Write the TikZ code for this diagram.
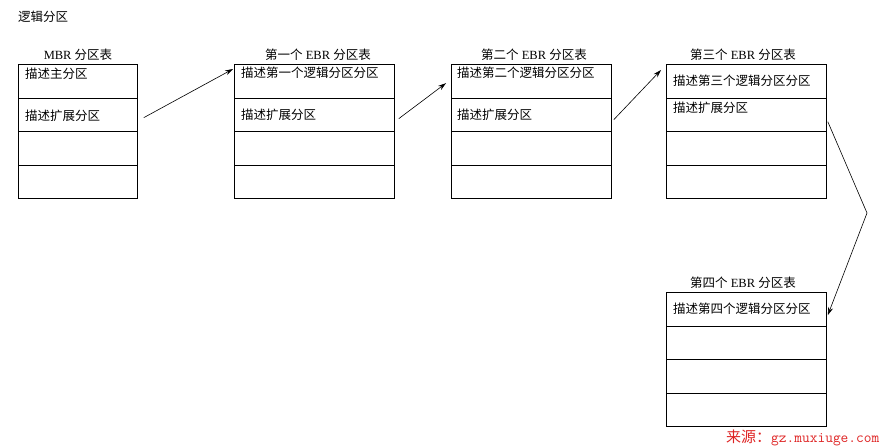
\documentclass[tikz,border=0pt]{standalone}
\usepackage{fontspec}
\setmainfont{Liberation Serif}
\newfontfamily\cjk{Noto Sans CJK SC}
\usetikzlibrary{arrows.meta}

\definecolor{wmred}{RGB}{222,36,36}

\tikzset{
  cell/.style={draw, line width=0.8pt, anchor=north west, inner sep=0pt,
    minimum height=33.5pt},
  txt/.style={anchor=west, inner sep=0pt, font=\cjk\fontsize{12.5}{14}\selectfont},
  tabtitle/.style={inner sep=0pt, font=\fontsize{12.5}{14}\selectfont},
  link/.style={line width=0.6pt, -{Stealth[length=8pt,width=5pt]}}
}

\begin{document}
\begin{tikzpicture}[x=1pt, y=-1pt]
  \useasboundingbox (0,0) rectangle (887,447);

  \node[txt] (head) at (18,17) {逻辑分区};

  % MBR table
  \node[tabtitle] (mbrtitle) at (78,55) {MBR {\cjk 分区表}};
  \foreach \i in {0,1,2,3}
    \node[cell, minimum width=119pt] (mbr\i) at (18,64+33.5*\i) {};
  \node[txt] (mbrt0) at (25,74) {描述主分区};
  \node[txt] (mbrt1) at (25,116) {描述扩展分区};

  % first EBR table
  \node[tabtitle] (ebratitle) at (318,55) {{\cjk 第一个} EBR {\cjk 分区表}};
  \foreach \i in {0,1,2,3}
    \node[cell, minimum width=160pt] (ebra\i) at (234,64+33.5*\i) {};
  \node[txt] (ebrat0) at (241,73) {描述第一个逻辑分区分区};
  \node[txt] (ebrat1) at (241,115) {描述扩展分区};

  % second EBR table
  \node[tabtitle] (ebrbtitle) at (534,55) {{\cjk 第二个} EBR {\cjk 分区表}};
  \foreach \i in {0,1,2,3}
    \node[cell, minimum width=160pt] (ebrb\i) at (451,64+33.5*\i) {};
  \node[txt] (ebrbt0) at (457,73) {描述第二个逻辑分区分区};
  \node[txt] (ebrbt1) at (457,115) {描述扩展分区};

  % third EBR table
  \node[tabtitle] (ebrctitle) at (743,55) {{\cjk 第三个} EBR {\cjk 分区表}};
  \foreach \i in {0,1,2,3}
    \node[cell, minimum width=160pt] (ebrc\i) at (666,64+33.5*\i) {};
  \node[txt] (ebrct0) at (673,81) {描述第三个逻辑分区分区};
  \node[txt] (ebrct1) at (673,108) {描述扩展分区};

  % fourth EBR table
  \node[tabtitle] (ebrdtitle) at (743,283) {{\cjk 第四个} EBR {\cjk 分区表}};
  \foreach \i in {0,1,2,3}
    \node[cell, minimum width=160pt] (ebrd\i) at (666,292+33.5*\i) {};
  \node[txt] (ebrdt0) at (673,309) {描述第四个逻辑分区分区};

  % links between the tables
  \draw[link] ([xshift=6pt,yshift=-3pt]mbr1.east) -- ([xshift=-1pt,yshift=-5pt]ebra0.north west);
  \draw[link] ([xshift=4pt,yshift=-4pt]ebra1.east) -- ([xshift=-5pt,yshift=-2pt]ebrb0.west);
  \draw[link] ([xshift=2pt,yshift=-5pt]ebrb1.east) -- ([xshift=-5pt,yshift=-6pt]ebrc0.north west);
  \coordinate (bend) at (867,213);
  \draw[link] ([xshift=1pt,yshift=-7pt]ebrc1.east) -- (bend) -- ([xshift=1pt,yshift=-6pt]ebrd0.east);

  % source note
  \node[anchor=west, inner sep=0pt, text=wmred, font=\fontsize{15}{17}\selectfont\ttfamily]
    (src) at (726,438) {{\cjk 来源：}gz.muxiuge.com};
\end{tikzpicture}
\end{document}
